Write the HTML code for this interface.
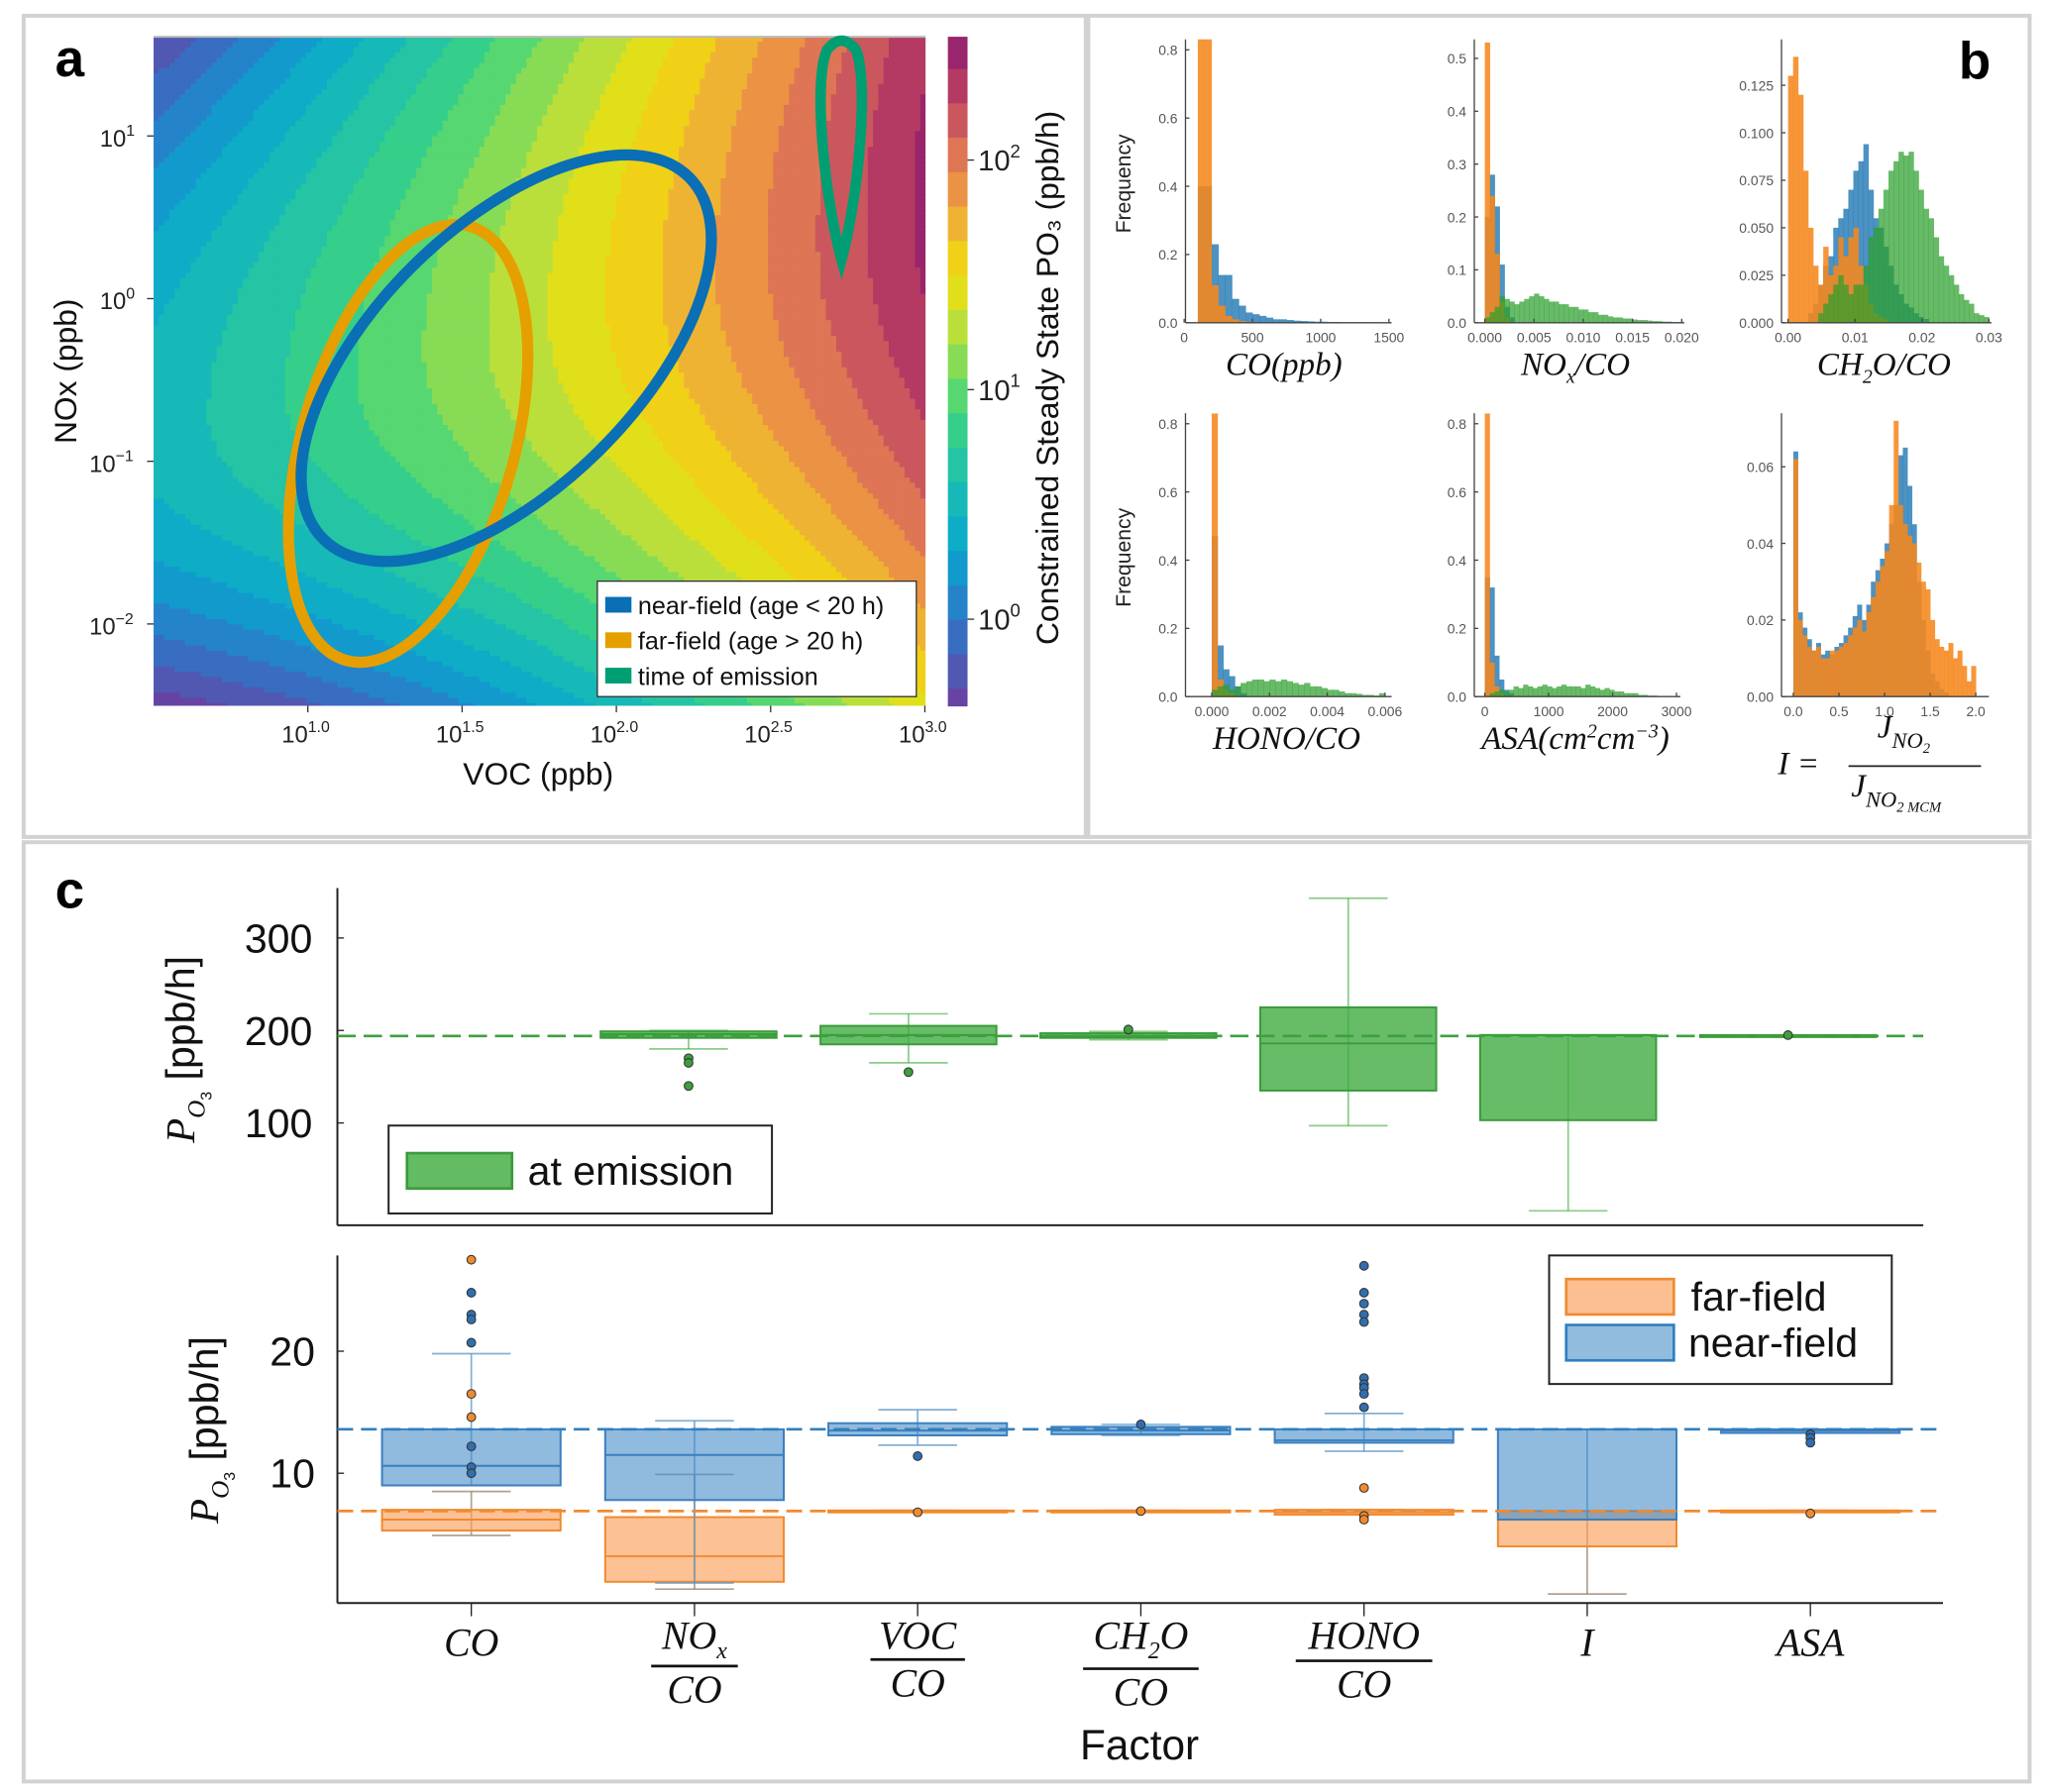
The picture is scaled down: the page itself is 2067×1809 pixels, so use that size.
<!DOCTYPE html>
<html><head><meta charset="utf-8">
<style>
html,body{margin:0;padding:0;background:#fff;}
svg{display:block;}
text{font-family:"Liberation Sans",sans-serif;}
.ser{font-family:"Liberation Serif",serif;font-style:italic;}
.nar{font-family:"Liberation Sans Narrow","Liberation Sans",sans-serif;}
</style></head>
<body>
<svg id="fig" width="2067" height="1809" viewBox="0 0 1560 1366" preserveAspectRatio="none" xmlns="http://www.w3.org/2000/svg">
<rect x="0" y="0" width="1560" height="1366" fill="#fff"/>
<g fill="none" stroke="#d2d2d2" stroke-width="3">
<rect x="18" y="12" width="809" height="626"/>
<rect x="829" y="12" width="717" height="626"/>
<rect x="18" y="642" width="1528" height="716"/>
</g>
<g id="pa"></g>
<g id="pb"></g>
<g id="pc"></g>
</svg>
<script>
// ===== Panel c data =====
var cats = ['CO','NOx/CO','VOC/CO','CH2O/CO','HONO/CO','I','ASA'];
var gQ1 = [194,192,185,192,135,103,194];
var gQ3 = [195,199,205,197,225,195,195];
var gMed = [194,196,195,194,186,195,194];
var gLo = [194,180,165,190,97,5,194];
var gHi = [195,200,218,199,343,195,195];
var gOut = [[1,170],[1,165],[1,140],[2,155],[3,201],[6,195]];
var gRef = 194;
var bQ1 = [9.0,7.8,13.1,13.2,12.5,6.2,13.3];
var bQ3 = [13.6,13.6,14.1,13.8,13.6,13.6,13.6];
var bMed = [10.6,11.5,13.5,13.5,12.7,6.2,13.5];
var bLo = [9.0,1.0,12.3,13.1,11.8,6.2,13.3];
var bHi = [19.8,14.3,15.2,14.0,14.9,13.6,13.6];
var bOut = [[0,24.8],[0,23.0],[0,22.6],[0,20.7],[0,12.2],[0,10.5],[0,10.0],[2,11.4],[3,14.0],[4,27.0],[4,24.8],[4,23.9],[4,23.0],[4,22.4],[4,17.8],[4,17.3],[4,17.0],[4,16.5],[4,15.4],[6,13.2],[6,12.9],[6,12.5]];
var bRef = 13.6;
var oQ1 = [5.3,1.1,6.8,6.85,6.6,4.0,6.8];
var oQ3 = [7.0,6.4,6.95,6.95,7.0,6.9,6.95];
var oMed = [6.2,3.2,6.9,6.9,6.8,6.2,6.9];
var oLo = [4.9,0.5,6.8,6.85,6.6,0.1,6.8];
var oHi = [8.5,9.9,6.95,6.95,7.0,6.9,6.95];
var oOut = [[0,27.5],[0,16.5],[0,14.6],[2,6.8],[3,6.9],[4,8.8],[4,6.5],[4,6.2],[6,6.7]];
var oRef = 6.9;
var upTicks = [100,200,300];
var loTicks = [10,20];

// ===== Panel b data =====
var h1Blue = [0.40,0.40,0.23,0.14,0.14,0.07,0.05,0.03,0.025,0.02,0.015,0.01,0.01,0.008,0.006,0.005,0.004,0.003,0.003,0.002,0.002,0.001,0.001,0.001,0.001,0,0,0];
var h1Orange = [0.9,0.9,0.11,0.05,0.02,0.01,0.005,0.003,0,0,0,0,0,0,0,0,0,0,0,0,0,0,0,0,0,0,0,0];
var h2Blue = [0.20,0.28,0.22,0.11,0.03,0.01,0,0,0,0,0,0,0,0,0,0,0,0,0,0,0,0,0,0,0,0,0,0,0,0,0,0,0,0,0,0,0,0,0,0];
var h2Orange = [0.53,0.24,0.13,0.04,0.01,0,0,0,0,0,0,0,0,0,0,0,0,0,0,0,0,0,0,0,0,0,0,0,0,0,0,0,0,0,0,0,0,0,0,0];
var h2Green = [0.01,0.02,0.03,0.05,0.045,0.04,0.035,0.04,0.045,0.05,0.055,0.05,0.045,0.04,0.04,0.035,0.035,0.03,0.03,0.025,0.025,0.02,0.02,0.015,0.015,0.012,0.01,0.01,0.008,0.008,0.006,0.005,0.005,0.004,0.003,0.003,0.002,0.002,0.001,0.001];
var h3Blue = [0,0,0,0,0.005,0.01,0.02,0.03,0.035,0.05,0.055,0.06,0.07,0.08,0.085,0.094,0.07,0.055,0.05,0.04,0.03,0.02,0.015,0.01,0.008,0.005,0.003,0.002,0,0,0,0,0,0,0,0,0,0,0,0];
var h3Orange = [0.13,0.14,0.12,0.08,0.05,0.03,0.02,0.04,0.025,0.03,0.045,0.035,0.045,0.05,0.03,0.02,0.01,0.005,0.003,0.002,0,0,0,0,0,0,0,0,0,0,0,0,0,0,0,0,0,0,0,0];
var h3Green = [0,0,0,0,0,0,0.005,0.01,0.015,0.02,0.025,0.02,0.015,0.02,0.02,0.03,0.045,0.05,0.06,0.07,0.08,0.085,0.09,0.088,0.09,0.08,0.07,0.06,0.055,0.045,0.035,0.03,0.025,0.02,0.015,0.012,0.01,0.005,0.004,0.003];
var h4Blue = [0,0.47,0.15,0.08,0.06,0.03,0.01,0,0,0,0,0,0,0,0,0,0,0,0,0,0,0,0,0,0,0,0,0,0,0,0,0];
var h4Orange = [0,0.83,0.05,0.02,0.01,0,0,0,0,0,0,0,0,0,0,0,0,0,0,0,0,0,0,0,0,0,0,0,0,0,0,0];
var h4Green = [0,0.02,0.03,0.035,0.02,0.03,0.04,0.045,0.05,0.05,0.045,0.05,0.045,0.05,0.045,0.04,0.035,0.04,0.03,0.03,0.025,0.02,0.02,0.015,0.01,0.01,0.008,0.005,0.005,0.003,0.01,0];
var h5Blue = [0.35,0.32,0.12,0.05,0.02,0.01,0,0,0,0,0,0,0,0,0,0,0,0,0,0,0,0,0,0,0,0,0,0,0,0,0,0,0,0,0,0,0,0,0,0];
var h5Orange = [0.83,0.1,0.03,0.01,0,0,0,0,0,0,0,0,0,0,0,0,0,0,0,0,0,0,0,0,0,0,0,0,0,0,0,0,0,0,0,0,0,0,0,0];
var h5Green = [0,0.01,0.015,0.02,0.015,0.02,0.03,0.025,0.035,0.03,0.025,0.03,0.035,0.03,0.025,0.03,0.035,0.03,0.03,0.03,0.025,0.035,0.03,0.025,0.02,0.025,0.02,0.015,0.015,0.01,0.01,0.01,0.005,0.005,0.003,0.003,0.002,0.002,0,0];
var h6Blue = [0.064,0.022,0.018,0.015,0.012,0.014,0.011,0.012,0.011,0.013,0.014,0.016,0.018,0.021,0.024,0.02,0.024,0.03,0.033,0.036,0.04,0.045,0.05,0.063,0.065,0.055,0.045,0.03,0.02,0.012,0.006,0.004,0.002,0.001,0,0,0,0,0,0,0];
var h6Orange = [0.062,0.02,0.016,0.013,0.012,0.013,0.01,0.01,0.012,0.012,0.013,0.014,0.016,0.018,0.02,0.017,0.022,0.026,0.03,0.034,0.038,0.05,0.072,0.05,0.045,0.042,0.04,0.035,0.03,0.028,0.02,0.015,0.013,0.012,0.014,0.01,0.012,0.008,0.004,0.008,0];

// ===== Panel a data =====
var aXTicks = ['1.0','1.5','2.0','2.5','3.0'];
var aYTicks = [1,0,-1,-2];
var cbTicks = [2,1,0];
var nearField = {cx:1.643, cy:-0.366, a:196, b:100, ang:-44.6};
var farField = {cx:1.325, cy:-0.89, a:172, b:81, ang:-74};

var NS='http://www.w3.org/2000/svg';
function mk(parent,tag,attrs,txt){var e=document.createElementNS(NS,tag);for(var k in attrs)e.setAttribute(k,attrs[k]);if(txt!==undefined)e.textContent=txt;parent.appendChild(e);return e;}

// ---------- PANEL A ----------
(function(){
var g=document.getElementById('pa');
var X0=117,X1=705,Y0=28,Y1=538;
function xs(lv){return 117+(lv-0.5)*235;}
function ys(lv){return 28+(1.61-lv)*124;}
function zf(lx,ly){var t=lx-0.5;var c=0.5+0.55*t+0.09*t*t;var m=-0.8+0.55*t;var d=ly-m;
 var a=d<0?0.31*Math.exp(-0.44*t):0.14*Math.exp(-0.3*t);return c-a*d*d;}
var stops=[[-0.4,[107,63,160]],[0.0,[46,120,200]],[0.3,[9,165,207]],[0.6,[27,191,176]],[0.9,[62,212,127]],[1.1,[127,220,90]],[1.3,[196,223,53]],[1.5,[241,223,10]],[1.7,[240,184,48]],[1.9,[234,141,72]],[2.1,[214,102,92]],[2.3,[184,62,98]],[2.55,[140,26,112]]];
function cmap(z){if(z<=stops[0][0])return 'rgb('+stops[0][1]+')';for(var i=1;i<stops.length;i++){if(z<=stops[i][0]){var t=(z-stops[i-1][0])/(stops[i][0]-stops[i-1][0]);var a=stops[i-1][1],b=stops[i][1];return 'rgb('+Math.round(a[0]+t*(b[0]-a[0]))+','+Math.round(a[1]+t*(b[1]-a[1]))+','+Math.round(a[2]+t*(b[2]-a[2]))+')';}}return 'rgb('+stops[stops.length-1][1]+')';}
function q(z){return Math.floor(z/0.15)*0.15+0.075;}
var cg=mk(g,'g',{});


var step=4;
for(var px=X0;px<X1;px+=step){for(var py=Y0;py<Y1;py+=step){
 var lx=0.5+(px+step/2-117)/235, ly=1.61-(py+step/2-28)/124;
 mk(cg,'rect',{x:px,y:py,width:Math.min(step+0.6,X1-px),height:Math.min(step+0.6,Y1-py),fill:cmap(q(zf(lx,ly)))});}}
mk(g,'line',{x1:X0,y1:Y0,x2:X1,y2:Y0,stroke:'#bbb','stroke-width':1.5});
var cb=mk(g,'g',{});


function cy(z){return 472-z*175;}
for(var z=-0.45;z<2.6;z+=0.15){var ya=Math.max(28,cy(z+0.15)),yb=Math.min(538,cy(z));if(yb>ya)mk(cb,'rect',{x:722,y:ya,width:15,height:yb-ya+0.5,fill:cmap(z+0.075)});}
cbTicks.forEach(function(t){var y=cy(t);mk(cb,'line',{x1:737,y1:y,x2:742,y2:y,stroke:'#333'});
 var tx=mk(cb,'text',{x:745,y:y+8,'font-size':22,'font-family':'Liberation Serif, serif',fill:'#222'});tx.textContent='10';mk(tx,'tspan',{dy:-10,'font-size':14},String(t));
 
 });
var cl=mk(g,'text',{x:0,y:0,transform:'translate(806,288) rotate(-90)','text-anchor':'middle','font-size':24,fill:'#111'},'Constrained Steady State PO\u2083 (ppb/h)');


aXTicks.forEach(function(t){var x=xs(parseFloat(t));mk(g,'line',{x1:x,y1:538,x2:x,y2:543,stroke:'#333'});
 var tx=mk(g,'text',{x:x-20,y:566,'font-size':18,fill:'#222'});tx.textContent='10';mk(tx,'tspan',{dy:-8,'font-size':12},t);
 
 });
aYTicks.forEach(function(t){var y=ys(t);mk(g,'line',{x1:112,y1:y,x2:117,y2:y,stroke:'#333'});
 var tx=mk(g,'text',{x:t<0?68:76,y:y+8,'font-size':18,fill:'#222'});tx.textContent='10';mk(tx,'tspan',{dy:-8,'font-size':12},t<0?'\u2212'+(-t):String(t));
 
 });
var xl=mk(g,'text',{x:410,y:598,'text-anchor':'middle','font-size':24,fill:'#111'},'VOC (ppb)');


var yl=mk(g,'text',{x:0,y:0,transform:'translate(58,283) rotate(-90)','text-anchor':'middle','font-size':24,fill:'#111'},'NOx (ppb)');


var la=mk(g,'text',{x:42,y:58,'font-size':40,'font-weight':'bold',fill:'#000'},'a');


function ell(e,col,name){var el=mk(g,'ellipse',{cx:xs(e.cx),cy:ys(e.cy),rx:e.a,ry:e.b,transform:'rotate('+e.ang+' '+xs(e.cx)+' '+ys(e.cy)+')',fill:'none',stroke:col,'stroke-width':8.5});
 
 }
ell(farField,'#e69f00','far-field-ellipse');
ell(nearField,'#0a6fb5','near-field-ellipse');
var tp=mk(g,'path',{d:'M641,198 C628,150 619,62 630,38 Q641,24 652,38 C662,62 654,150 641,198 Z',fill:'none',stroke:'#009e73','stroke-width':8});


var lg=mk(g,'g',{});


mk(lg,'rect',{x:455,y:443,width:243,height:88,fill:'#fff',stroke:'#333','stroke-width':1});
[['#0a6fb5','near-field (age < 20 h)'],['#e69f00','far-field (age > 20 h)'],['#009e73','time of emission']].forEach(function(d,i){var y=461+i*27;
 mk(lg,'rect',{x:461,y:y-6,width:20,height:12,fill:d[0]});
 var t=mk(lg,'text',{x:486,y:y+7,'font-size':19,fill:'#111'},d[1]);
 
 });
})();

// ---------- PANEL B ----------
(function(){
var g=document.getElementById('pb');
var BL='rgba(31,119,180,0.8)',OR='rgba(245,135,30,0.88)',GR='rgba(44,160,44,0.72)';
function hist(cfg){
 var hg=mk(g,'g',{});
 
 
 var xs=function(v){return cfg.px0+(v-cfg.v0)*(cfg.px1-cfg.px0)/(cfg.v1-cfg.v0);};
 var ys=function(v){return cfg.yb-(v)*cfg.ypp;};
 function bars(arr,col){arr.forEach(function(h,i){if(h<=0)return;var x0=xs(cfg.b0+i*cfg.bw),x1=xs(cfg.b0+(i+1)*cfg.bw);var yt=Math.max(cfg.yt,ys(h));
  var r=mk(hg,'rect',{x:x0,y:yt,width:x1-x0+0.3,height:cfg.yb-yt,fill:col});
  
  });}
 cfg.series.forEach(function(s){bars(s[0],s[1]);});
 mk(hg,'line',{x1:cfg.ax,y1:cfg.yt,x2:cfg.ax,y2:cfg.yb,stroke:'#444','stroke-width':1});
 mk(hg,'line',{x1:cfg.ax,y1:cfg.yb,x2:cfg.xr,y2:cfg.yb,stroke:'#444','stroke-width':1});
 cfg.yt_ticks.forEach(function(t){var y=ys(t);mk(hg,'line',{x1:cfg.ax,y1:y,x2:cfg.ax+3,y2:y,stroke:'#444'});
  var tx=mk(hg,'text',{x:cfg.ax-6,y:y+4,'text-anchor':'end','font-size':10.5,fill:'#555'},t.toFixed(cfg.ydec));
  
  });
 cfg.xt_ticks.forEach(function(t){var x=xs(t);mk(hg,'line',{x1:x,y1:cfg.yb,x2:x,y2:cfg.yb-3,stroke:'#444'});
  var tx=mk(hg,'text',{x:x,y:cfg.yb+15,'text-anchor':'middle','font-size':10.5,fill:'#555'},t.toFixed(cfg.xdec));
  
  });
}
hist({name:'hist-co',px0:902,px1:1058,v0:0,v1:1500,ax:903,xr:1060,yt:30,yb:246,ypp:260,b0:100,bw:50,ydec:1,xdec:0,yt_ticks:[0,0.2,0.4,0.6,0.8],xt_ticks:[0,500,1000,1500],series:[[h1Blue,BL],[h1Orange,OR]]});
hist({name:'hist-nox-co',px0:1131,px1:1281,v0:0,v1:0.02,ax:1123,xr:1283,yt:30,yb:246,ypp:403,b0:0,bw:0.0005,ydec:1,xdec:3,yt_ticks:[0,0.1,0.2,0.3,0.4,0.5],xt_ticks:[0,0.005,0.01,0.015,0.02],series:[[h2Blue,BL],[h2Orange,OR],[h2Green,GR]]});
hist({name:'hist-ch2o-co',px0:1362,px1:1515,v0:0,v1:0.03,ax:1357,xr:1517,yt:30,yb:246,ypp:1448,b0:0,bw:0.00075,ydec:3,xdec:2,yt_ticks:[0,0.025,0.05,0.075,0.1,0.125],xt_ticks:[0,0.01,0.02,0.03],series:[[h3Blue,BL],[h3Orange,OR],[h3Green,GR]]});
hist({name:'hist-hono-co',px0:923,px1:1055,v0:0,v1:0.006,ax:903,xr:1060,yt:315,yb:531,ypp:260,b0:-0.0002,bw:0.0002,ydec:1,xdec:3,yt_ticks:[0,0.2,0.4,0.6,0.8],xt_ticks:[0,0.002,0.004,0.006],series:[[h4Blue,BL],[h4Orange,OR],[h4Green,GR]]});
hist({name:'hist-asa',px0:1131,px1:1277,v0:0,v1:3000,ax:1123,xr:1280,yt:315,yb:531,ypp:260,b0:0,bw:75,ydec:1,xdec:0,yt_ticks:[0,0.2,0.4,0.6,0.8],xt_ticks:[0,1000,2000,3000],series:[[h5Blue,BL],[h5Orange,OR],[h5Green,GR]]});
hist({name:'hist-i',px0:1366,px1:1505,v0:0,v1:2.0,ax:1357,xr:1515,yt:315,yb:531,ypp:2920,b0:0,bw:0.05,ydec:2,xdec:1,yt_ticks:[0,0.02,0.04,0.06],xt_ticks:[0,0.5,1.0,1.5,2.0],series:[[h6Blue,BL],[h6Orange,OR]]});
function lab(x,y,html,name){var t=mk(g,'text',{x:x,y:y,'text-anchor':'middle','font-size':25,'class':'ser',fill:'#111'});t.innerHTML=html;
 
 }
lab(978,286,'CO(ppb)','x-label-co');
lab(1200,286,'NO<tspan font-size="15" dy="6">x</tspan><tspan dy="-6">/CO</tspan>','x-label-nox-co');
lab(1435,286,'CH<tspan font-size="15" dy="6">2</tspan><tspan dy="-6">O/CO</tspan>','x-label-ch2o-co');
lab(980,571,'HONO/CO','x-label-hono-co');
lab(1200,571,'ASA(cm<tspan font-size="15" dy="-9">2</tspan><tspan dy="9">cm</tspan><tspan font-size="15" dy="-9">\u22123</tspan><tspan dy="9">)</tspan>','x-label-asa');
var fr=mk(g,'g',{});


mk(fr,'text',{x:1370,y:590,'font-size':25,'class':'ser',fill:'#111','text-anchor':'middle'},'I =');
var n=mk(fr,'text',{x:1430,y:562,'font-size':25,'class':'ser',fill:'#111'});n.innerHTML='J<tspan font-size="17" dy="8">NO</tspan><tspan font-size="11" dy="4">2</tspan>';
mk(fr,'line',{x1:1408,y1:584,x2:1509,y2:584,stroke:'#222','stroke-width':1.3});
var d=mk(fr,'text',{x:1410,y:607,'font-size':25,'class':'ser',fill:'#111'});d.innerHTML='J<tspan font-size="17" dy="8">NO</tspan><tspan font-size="11" dy="4">2 MCM</tspan>';
[140,425].forEach(function(y){var t=mk(g,'text',{x:0,y:0,transform:'translate(861,'+y+') rotate(-90)','text-anchor':'middle','font-size':16,fill:'#222'},'Frequency');
 
 });
var lb=mk(g,'text',{x:1492,y:60,'font-size':40,'font-weight':'bold',fill:'#000'},'b');


})();

// ---------- PANEL C ----------
(function(){
var g=document.getElementById('pc');
var lc=mk(g,'text',{x:42,y:692,'font-size':40,'font-weight':'bold',fill:'#000'},'c');


var uy=function(v){return 926.5-v*0.705;};
var ux=function(i){return 357+i*167.5;};
var ly=function(v){return 1216-v*9.3;};
var lx=function(i){return 359+i*170;};
var up=mk(g,'g',{});


var lo=mk(g,'g',{});


function box(par,xf,yf,i,q1,q3,med,wl,wh,fill,stroke,wcol,w,name){
 var cx=xf(i);
 mk(par,'line',{x1:cx,y1:yf(wh),x2:cx,y2:yf(wl),stroke:wcol,'stroke-width':1.3});
 mk(par,'line',{x1:cx-30,y1:yf(wh),x2:cx+30,y2:yf(wh),stroke:wcol,'stroke-width':1.3});
 mk(par,'line',{x1:cx-30,y1:yf(wl),x2:cx+30,y2:yf(wl),stroke:wcol,'stroke-width':1.3});
 var r=mk(par,'rect',{x:cx-w/2,y:yf(q3),width:w,height:Math.max(1.5,yf(q1)-yf(q3)),fill:fill,stroke:stroke,'stroke-width':1.5});
 
 
 mk(par,'line',{x1:cx-w/2,y1:yf(med),x2:cx+w/2,y2:yf(med),stroke:stroke,'stroke-width':1.5});
}
function dots(par,xf,yf,arr,fill){arr.forEach(function(o){var c=mk(par,'circle',{cx:xf(o[0]),cy:yf(o[1]),r:3.3,fill:fill,stroke:'#333','stroke-width':0.8});
 
 });}
mk(up,'line',{x1:257,y1:677,x2:257,y2:934,stroke:'#222','stroke-width':1.5});
mk(up,'line',{x1:257,y1:934,x2:1465,y2:934,stroke:'#222','stroke-width':1.5});
upTicks.forEach(function(t){mk(up,'line',{x1:257,y1:uy(t),x2:262,y2:uy(t),stroke:'#222'});
 var tx=mk(up,'text',{x:238,y:uy(t)+11,'text-anchor':'end','font-size':31,'class':'nar',fill:'#111'},String(t));
 
 });
for(var i=0;i<cats.length;i++){if(i===0)continue;box(up,ux,uy,i,gQ1[i],gQ3[i],gMed[i],gLo[i],gHi[i],'rgba(60,170,60,0.78)','#3a9c3a','rgba(60,170,60,0.6)',134,'box-emission-'+i);}
mk(up,'line',{x1:257,y1:uy(gRef),x2:1465,y2:uy(gRef),stroke:'#3da03d','stroke-width':2,'stroke-dasharray':'14,6'});
dots(up,ux,uy,gOut,'#3da03d');
var lg=mk(up,'g',{});


mk(lg,'rect',{x:296,y:858,width:292,height:67,fill:'#fff',stroke:'#222','stroke-width':1.5});
mk(lg,'rect',{x:310,y:879,width:80,height:27,fill:'rgba(60,170,60,0.8)',stroke:'#3a9c3a','stroke-width':2});
mk(lg,'text',{x:402,y:903,'font-size':31,fill:'#111','class':'nar'},'at emission');
mk(lo,'line',{x1:257,y1:957,x2:257,y2:1222,stroke:'#222','stroke-width':1.5});
mk(lo,'line',{x1:257,y1:1222,x2:1480,y2:1222,stroke:'#222','stroke-width':1.5});
loTicks.forEach(function(t){mk(lo,'line',{x1:257,y1:ly(t),x2:262,y2:ly(t),stroke:'#222'});
 var tx=mk(lo,'text',{x:240,y:ly(t)+11,'text-anchor':'end','font-size':31,'class':'nar',fill:'#111'},String(t));
 
 });
for(var i=0;i<cats.length;i++){mk(lo,'line',{x1:lx(i),y1:1222,x2:lx(i),y2:1232,stroke:'#222'});}
for(var i=0;i<cats.length;i++){box(lo,lx,ly,i,oQ1[i],oQ3[i],oMed[i],oLo[i],oHi[i],'rgba(250,160,90,0.65)','#f08a30','rgba(150,130,110,0.75)',136,'box-far-field-'+i);}
for(var i=0;i<cats.length;i++){box(lo,lx,ly,i,bQ1[i],bQ3[i],bMed[i],bLo[i],bHi[i],'rgba(70,140,200,0.6)','#3a7fbf','rgba(90,150,200,0.75)',136,'box-near-field-'+i);}
mk(lo,'line',{x1:257,y1:ly(bRef),x2:1480,y2:ly(bRef),stroke:'#2f7fc0','stroke-width':2,'stroke-dasharray':'12,6'});
mk(lo,'line',{x1:257,y1:ly(oRef),x2:1480,y2:ly(oRef),stroke:'#f08a30','stroke-width':2,'stroke-dasharray':'12,6'});
dots(lo,lx,ly,oOut,'#f08a30');
dots(lo,lx,ly,bOut,'#2f6fb0');
var lg2=mk(lo,'g',{});


mk(lg2,'rect',{x:1180,y:957,width:261,height:98,fill:'#fff',stroke:'#222','stroke-width':1.5});
mk(lg2,'rect',{x:1193,y:975,width:82,height:27,fill:'rgba(250,170,110,0.75)',stroke:'#f08a30','stroke-width':2});
mk(lg2,'rect',{x:1193,y:1010,width:82,height:27,fill:'rgba(110,165,210,0.75)',stroke:'#2f7fc0','stroke-width':2});
mk(lg2,'text',{x:1288,y:999,'font-size':31,fill:'#111','class':'nar'},'far-field');
mk(lg2,'text',{x:1286,y:1034,'font-size':31,fill:'#111','class':'nar'},'near-field');
function single(i,s){var t=mk(g,'text',{x:lx(i),y:1262,'text-anchor':'middle','font-size':30,'class':'ser',fill:'#111'});t.innerHTML=s;
 
 }
function frac(i,num,den,lw,lineY){var t=mk(g,'text',{x:lx(i),y:1257,'text-anchor':'middle','font-size':30,'class':'ser',fill:'#111'});t.innerHTML=num;
 
 
 mk(g,'line',{x1:lx(i)-lw/2,y1:lineY,x2:lx(i)+lw/2,y2:lineY,stroke:'#111','stroke-width':2});
 mk(g,'text',{x:lx(i),y:lineY+28,'text-anchor':'middle','font-size':30,'class':'ser',fill:'#111'},den);}
single(0,'CO');
frac(1,'NO<tspan font-size="18" dy="7">x</tspan>','CO',66,1270);
frac(2,'VOC','CO',72,1265);
frac(3,'CH<tspan font-size="18" dy="7">2</tspan><tspan dy="-7">O</tspan>','CO',88,1272);
frac(4,'HONO','CO',104,1266);
single(5,'I');
single(6,'ASA');
var fx=mk(g,'text',{x:868,y:1341,'text-anchor':'middle','font-size':32,'class':'nar',fill:'#111'},'Factor');


[[148,800],[166,1090]].forEach(function(p){var t=mk(g,'text',{x:0,y:0,transform:'translate('+p[0]+','+p[1]+') rotate(-90)','text-anchor':'middle','font-size':31,fill:'#111'});
 t.innerHTML='<tspan class="ser" font-family="Liberation Serif, serif" font-style="italic">P</tspan><tspan class="ser" font-family="Liberation Serif, serif" font-style="italic" font-size="19" dy="8">O</tspan><tspan font-size="12" dy="5">3</tspan><tspan dy="-13">  [ppb/h]</tspan>';
 
 });
})();
</script>
</body></html>
